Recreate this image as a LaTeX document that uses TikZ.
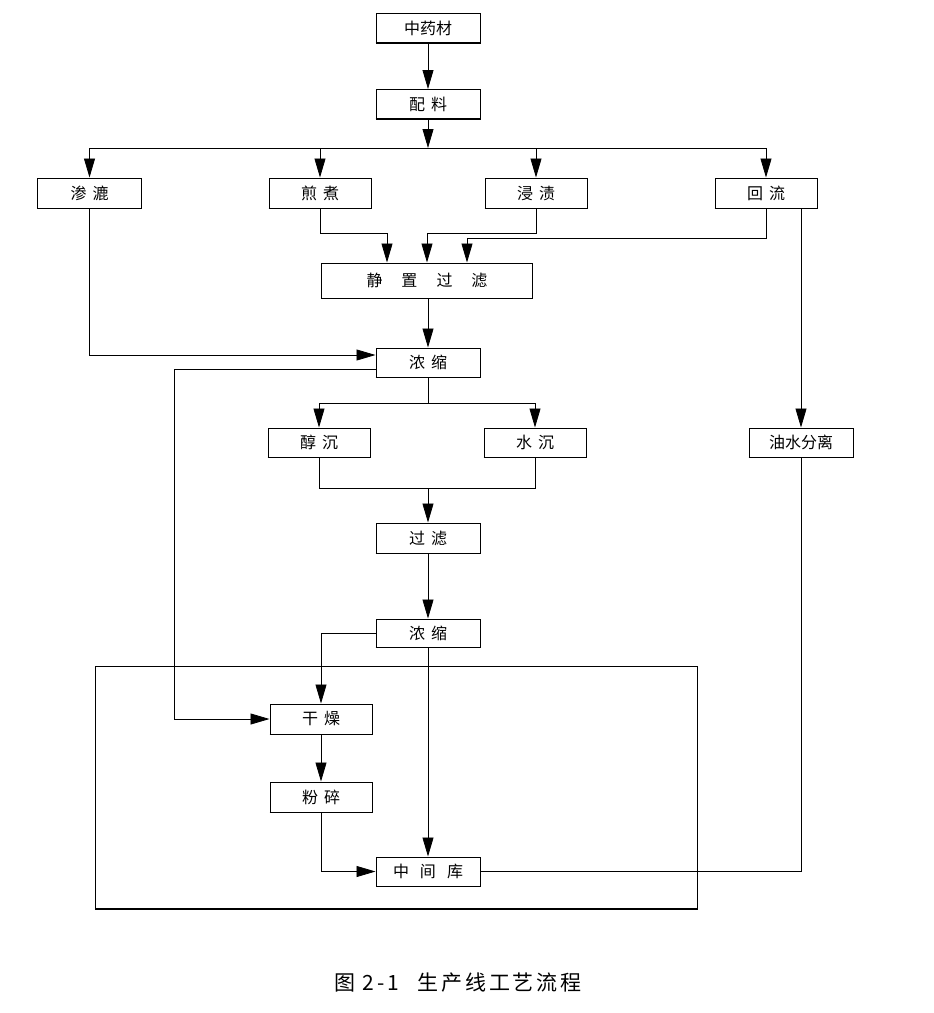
\documentclass[tikz,border=0pt]{standalone}
\usepackage{fontspec}
\setmainfont{Noto Sans CJK SC}
\newfontfamily\capfont[LetterSpace=14]{Noto Sans CJK SC}
\usetikzlibrary{arrows.meta}
\newcommand\gp[1]{\hspace{#1pt}}
\begin{document}
\begin{tikzpicture}[x=1pt,y=-1pt,
  box/.style={draw,line width=1pt,minimum width=104pt,minimum height=29pt,inner sep=0pt,font=\fontsize{16}{16}\selectfont},
  ln/.style={line width=0.8pt},
  arr/.style={ln,-{Triangle[length=19pt,width=11pt]}},
  frame/.style={line width=1pt}]
\useasboundingbox (0,0) rectangle (934,1013);
\fill[white] (0,0) rectangle (934,1013);
% big frame
\draw[frame] (95,666) rectangle (697,909);
\draw[line width=2pt] (95,909) -- (697,909);
% nodes
\node[box] (zy) at (428,28) {中药材};
\node[box] (pl) at (428,104) {配\gp{6}料};
\node[box,minimum height=30pt] (sl) at (89.5,193) {渗\gp{6}漉};
\node[box,minimum width=102pt,minimum height=30pt] (jz) at (320,193) {煎\gp{6}煮};
\node[box,minimum width=102pt,minimum height=30pt] (jzz) at (536,193) {浸\gp{6}渍};
\node[box,minimum width=102pt,minimum height=30pt] (hl) at (766,193) {回\gp{6}流};
\node[box,minimum width=211pt,minimum height=35pt] (jg) at (427,280.5) {静\gp{19}置\gp{19}过\gp{19}滤};
\node[box] (ns1) at (428,362.5) {浓\gp{6}缩};
\node[box,minimum width=102pt] (cc) at (319,442.5) {醇\gp{6}沉};
\node[box,minimum width=102pt] (sc) at (535,442.5) {水\gp{6}沉};
\node[box] (ys) at (801,442.5) {油水分离};
\node[box,minimum height=30pt] (gl) at (428,538) {过\gp{6}滤};
\node[box,minimum height=28pt] (ns2) at (428,633) {浓\gp{6}缩};
\node[box,minimum width=102pt,minimum height=30pt] (gz) at (321,719) {干\gp{6}燥};
\node[box,minimum width=102pt,minimum height=30pt] (fs) at (321,797) {粉\gp{6}碎};
\node[box] (zjk) at (428,871.5) {中\gp{11}间\gp{11}库};
% box bottom shadows
\foreach \n in {zy,pl,sl,jz,jzz,hl,jg,ns1,cc,sc,ys,gl,ns2,gz,fs}
  \draw[line width=1.8pt] (\n.south west) -- (\n.south east);
% connectors
\draw[arr] (zy) -- (pl);
\coordinate (j1) at (428,148);
\draw[arr] (pl) -- (j1);
\draw[ln] (sl.north |- j1) -- (hl.north |- j1);
\foreach \n in {sl,jz,jzz,hl} \draw[arr] (\n.north |- j1) -- (\n.north);
\coordinate (a1) at (387,233);
\coordinate (a2) at (427,233);
\coordinate (a3) at (467,238);
\draw[arr] (jz.south) |- (a1) -- (a1 |- jg.north);
\draw[arr] (jzz.south) |- (a2) -- (a2 |- jg.north);
\draw[arr] (hl.south) |- (a3) -- (a3 |- jg.north);
\draw[arr] (ys.north |- hl.south) -- (ys.north);
\draw[arr] (jg.south -| ns1) -- (ns1.north);
\draw[arr] (sl.south) |- ([yshift=7.5pt]ns1.west);
\coordinate (c1) at (174.5,719);
\draw[arr] ([yshift=-6.5pt]ns1.west) -| (c1) -- (gz.west);
\coordinate (j2) at (428,403);
\draw[ln] (ns1.south) -- (j2);
\draw[ln] (cc.north |- j2) -- (sc.north |- j2);
\draw[arr] (cc.north |- j2) -- (cc.north);
\draw[arr] (sc.north |- j2) -- (sc.north);
\coordinate (j3) at (428,488);
\draw[ln] (cc.south) |- (j3);
\draw[ln] (sc.south) |- (j3);
\draw[arr] (j3) -- (gl.north);
\draw[arr] (gl) -- (ns2);
\draw[arr] (ns2.west) -| (gz.north);
\draw[arr] (ns2) -- (zjk);
\draw[arr] (gz) -- (fs);
\draw[arr] (fs.south) |- (zjk.west);
\coordinate (c2) at (zjk.east -| ys.south);
\draw[line width=1.8pt] (zjk.east) -- (c2);
\draw[ln] (c2) -- (ys.south);
% caption
\node[font=\capfont\fontsize{21}{21}\selectfont] (cap) at (458,983) {图 2-1\gp{18}生产线工艺流程};
\end{tikzpicture}
\end{document}
